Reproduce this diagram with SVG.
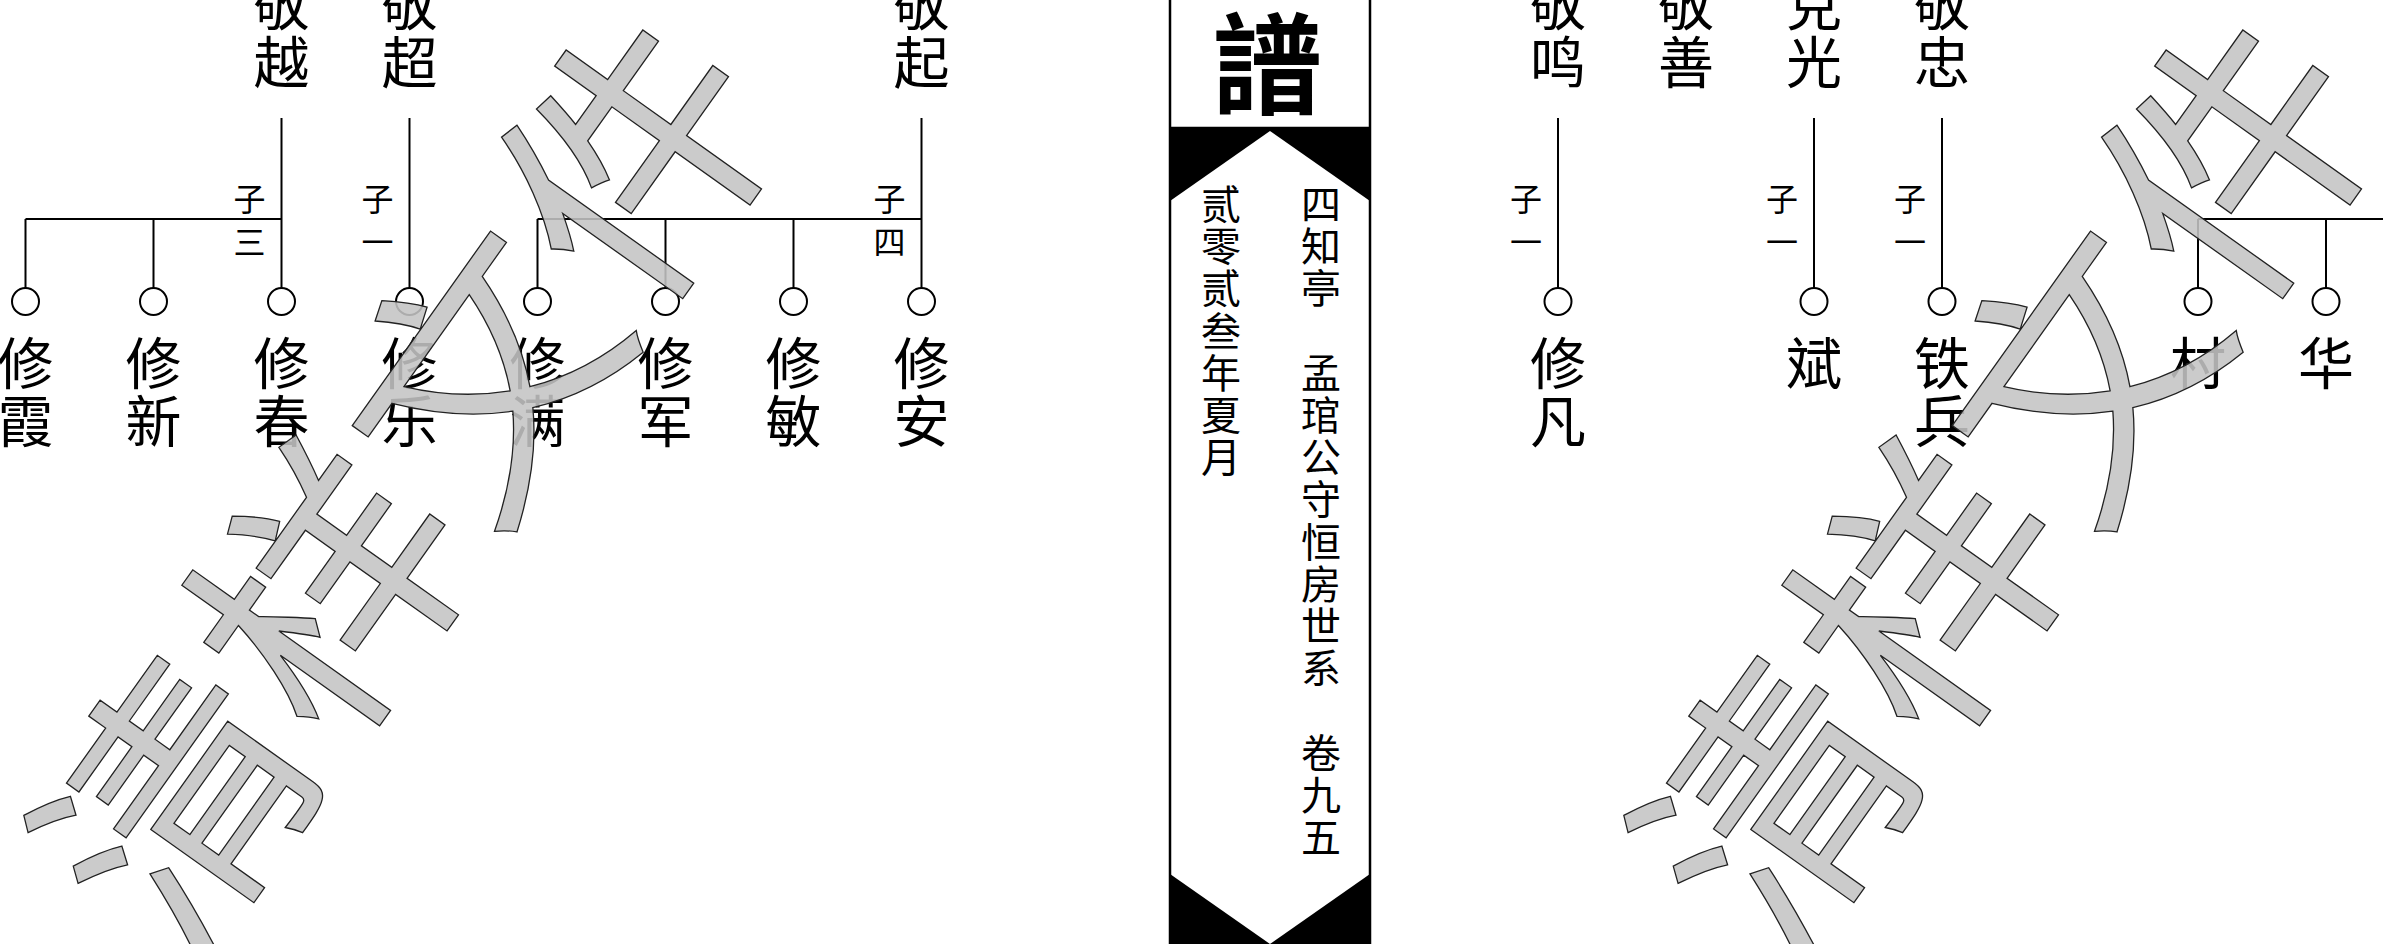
<svg xmlns="http://www.w3.org/2000/svg" width="2383" height="944" viewBox="0 0 2383 944">
<style>
.t{font-family:"Noto Sans CJK SC","Noto Sans CJK TC",sans-serif;fill:#000;text-anchor:middle}
.n{font-size:56px}
.l{font-size:32px}
.s{font-size:40px}
.c{fill:none;stroke:#000;stroke-width:2}
.o{fill:#fff;stroke:#000;stroke-width:2}
.wm{font-family:"Noto Sans CJK SC","Noto Sans CJK TC",sans-serif;font-size:264px;fill:#c4c4c4;fill-opacity:0.88;stroke:#222;stroke-width:1.3;text-anchor:middle}
</style>
<rect width="2383" height="944" fill="#fff"/>

<g id="connectors" class="c">
  <path d="M281.5 118V288M25.5 219H281.5M25.5 219V288M153.5 219V288"/>
  <path d="M409.5 118V288"/>
  <path d="M921.5 118V288M537.5 219H921.5M537.5 219V288M665.5 219V288M793.5 219V288"/>
  <path d="M1558 118V288M1814 118V288M1942 118V288"/>
  <path d="M2198 219H2385M2198 219V288M2326 219V288"/>
</g>

<g id="circles">
  <circle class="o" cx="25.5" cy="301.5" r="13.5"/>
  <circle class="o" cx="153.5" cy="301.5" r="13.5"/>
  <circle class="o" cx="281.5" cy="301.5" r="13.5"/>
  <circle class="o" cx="409.5" cy="301.5" r="13.5"/>
  <circle class="o" cx="537.5" cy="301.5" r="13.5"/>
  <circle class="o" cx="665.5" cy="301.5" r="13.5"/>
  <circle class="o" cx="793.5" cy="301.5" r="13.5"/>
  <circle class="o" cx="921.5" cy="301.5" r="13.5"/>
  <circle class="o" cx="1558" cy="301.5" r="13.5"/>
  <circle class="o" cx="1814" cy="301.5" r="13.5"/>
  <circle class="o" cx="1942" cy="301.5" r="13.5"/>
  <circle class="o" cx="2198" cy="301.5" r="13.5"/>
  <circle class="o" cx="2326" cy="301.5" r="13.5"/>
</g>

<!-- left page parents -->
<g id="p-jingyue"><text class="t n"><tspan x="281.5" y="25">敬</tspan><tspan x="281.5" y="83">越</tspan></text>
  <text class="t l"><tspan x="249.5" y="211">子</tspan><tspan x="249.5" y="254">三</tspan></text></g>
<g id="p-jingchao"><text class="t n"><tspan x="409.5" y="25">敬</tspan><tspan x="409.5" y="83">超</tspan></text>
  <text class="t l"><tspan x="377.5" y="211">子</tspan><tspan x="377.5" y="254">一</tspan></text></g>
<g id="p-jingqi"><text class="t n"><tspan x="921.5" y="25">敬</tspan><tspan x="921.5" y="83">起</tspan></text>
  <text class="t l"><tspan x="889.5" y="211">子</tspan><tspan x="889.5" y="254">四</tspan></text></g>

<!-- left page children -->
<g id="c-xiuxia"><text class="t n"><tspan x="25.5" y="384">修</tspan><tspan x="25.5" y="442">霞</tspan></text></g>
<g id="c-xiuxin"><text class="t n"><tspan x="153.5" y="384">修</tspan><tspan x="153.5" y="442">新</tspan></text></g>
<g id="c-xiuchun"><text class="t n"><tspan x="281.5" y="384">修</tspan><tspan x="281.5" y="442">春</tspan></text></g>
<g id="c-xiule"><text class="t n"><tspan x="409.5" y="384">修</tspan><tspan x="409.5" y="442">乐</tspan></text></g>
<g id="c-xiuman"><text class="t n"><tspan x="537.5" y="384">修</tspan><tspan x="537.5" y="442">满</tspan></text></g>
<g id="c-xiujun"><text class="t n"><tspan x="665.5" y="384">修</tspan><tspan x="665.5" y="442">军</tspan></text></g>
<g id="c-xiumin"><text class="t n"><tspan x="793.5" y="384">修</tspan><tspan x="793.5" y="442">敏</tspan></text></g>
<g id="c-xiuan"><text class="t n"><tspan x="921.5" y="384">修</tspan><tspan x="921.5" y="442">安</tspan></text></g>

<!-- center strip -->
<g id="spine">
  <rect x="1170" y="128" width="200" height="820" fill="#000"/>
  <polygon points="1270,131 1370,201 1370,874 1270,944 1170,874 1170,201" fill="#fff"/>
  <path d="M1170 -2V946M1370 -2V946M1170 128H1370" fill="none" stroke="#000" stroke-width="2.5"/>
  <text class="t" x="1267" y="106" font-size="110" font-weight="bold">譜</text>
  <text class="t s"><tspan x="1321" y="219">四</tspan><tspan x="1321" y="261.2">知</tspan><tspan x="1321" y="303.4">亭</tspan><tspan x="1321" y="387.8">孟</tspan><tspan x="1321" y="430">琯</tspan><tspan x="1321" y="472.2">公</tspan><tspan x="1321" y="514.4">守</tspan><tspan x="1321" y="556.6">恒</tspan><tspan x="1321" y="598.8">房</tspan><tspan x="1321" y="641">世</tspan><tspan x="1321" y="683.2">系</tspan><tspan x="1321" y="767.6">卷</tspan><tspan x="1321" y="809.8">九</tspan><tspan x="1321" y="852">五</tspan></text>
  <text class="t s"><tspan x="1221" y="219">贰</tspan><tspan x="1221" y="261.2">零</tspan><tspan x="1221" y="303.4">贰</tspan><tspan x="1221" y="345.6">叁</tspan><tspan x="1221" y="387.8">年</tspan><tspan x="1221" y="430">夏</tspan><tspan x="1221" y="472.2">月</tspan></text>
</g>

<!-- right page parents -->
<g id="p-jingming"><text class="t n"><tspan x="1558" y="25">敬</tspan><tspan x="1558" y="83">鸣</tspan></text>
  <text class="t l"><tspan x="1526" y="211">子</tspan><tspan x="1526" y="254">一</tspan></text></g>
<g id="p-jingshan"><text class="t n"><tspan x="1686" y="25">敬</tspan><tspan x="1686" y="83">善</tspan></text></g>
<g id="p-keguang"><text class="t n"><tspan x="1814" y="25">克</tspan><tspan x="1814" y="83">光</tspan></text>
  <text class="t l"><tspan x="1782" y="211">子</tspan><tspan x="1782" y="254">一</tspan></text></g>
<g id="p-jingzhong"><text class="t n"><tspan x="1942" y="25">敬</tspan><tspan x="1942" y="83">忠</tspan></text>
  <text class="t l"><tspan x="1910" y="211">子</tspan><tspan x="1910" y="254">一</tspan></text></g>

<!-- right page children -->
<g id="c-xiufan"><text class="t n"><tspan x="1558" y="384">修</tspan><tspan x="1558" y="442">凡</tspan></text></g>
<g id="c-bin"><text class="t n" x="1814" y="384">斌</text></g>
<g id="c-tiebing"><text class="t n"><tspan x="1942" y="384">铁</tspan><tspan x="1942" y="442">兵</tspan></text></g>
<g id="c-cun"><text class="t n" x="2198" y="384">村</text></g>
<g id="c-hua"><text class="t n" x="2326" y="384">华</text></g>

<!-- watermarks -->
<g id="watermark-left" transform="translate(406,480) rotate(-54.6)"><text class="wm" x="0" y="100">清样文件</text></g>
<g id="watermark-right" transform="translate(2006,480) rotate(-54.6)"><text class="wm" x="0" y="100">清样文件</text></g>
</svg>
